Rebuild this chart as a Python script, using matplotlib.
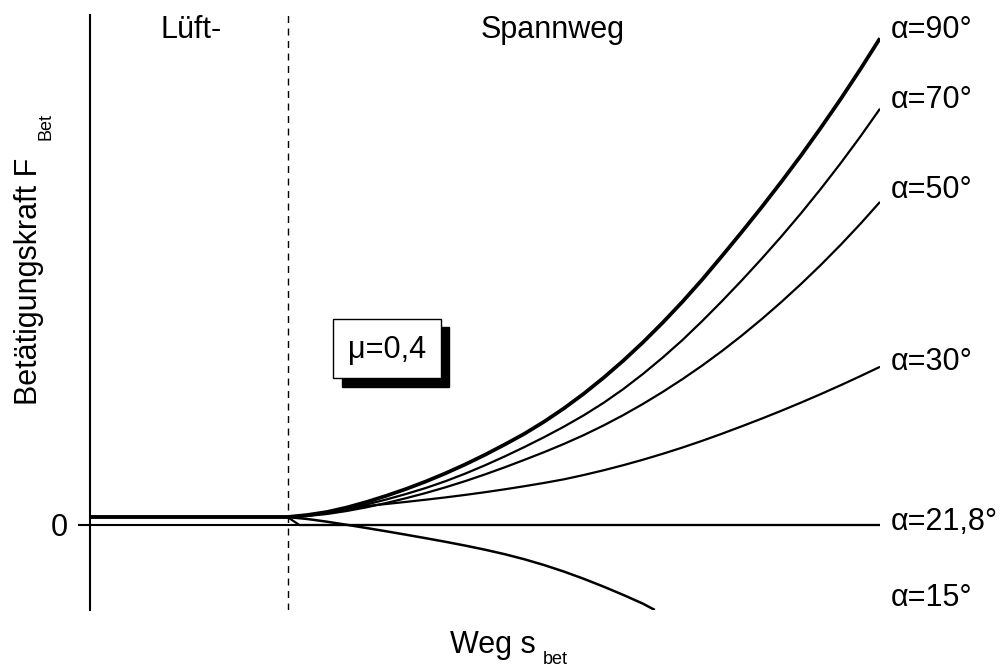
import matplotlib
matplotlib.use("Agg")
import matplotlib.pyplot as plt
from matplotlib.patches import Rectangle

plt.rcParams['font.family'] = ['Liberation Sans', 'DejaVu Sans']

# ---- data (relative units: path s from 0..10, force F relative) ----
s_common = [0, 2.5, 2.75, 3.0, 3.25, 3.5, 3.75, 4.0, 4.25, 4.5, 4.75, 5.0, 5.25, 5.5, 5.75,
            6.0, 6.25, 6.5, 6.75, 7.0, 7.25, 7.5, 7.75, 8.0, 8.25, 8.5, 8.75, 9.0, 9.25,
            9.5, 9.75, 10.0]
F_90 = [0.08, 0.08, 0.100, 0.130, 0.175, 0.230, 0.292, 0.360, 0.435, 0.517, 0.606, 0.702,
        0.805, 0.913, 1.034, 1.167, 1.313, 1.472, 1.643, 1.827, 2.024, 2.233, 2.455, 2.690,
        2.930, 3.176, 3.431, 3.695, 3.971, 4.257, 4.556, 4.867]
F_70 = [0.08, 0.08, 0.090, 0.120, 0.160, 0.205, 0.255, 0.310, 0.370, 0.438, 0.514, 0.597,
        0.686, 0.780, 0.879, 0.984, 1.097, 1.221, 1.359, 1.511, 1.675, 1.850, 2.040, 2.239,
        2.446, 2.661, 2.884, 3.117, 3.361, 3.616, 3.883, 4.163]
F_50 = [0.08, 0.08, 0.090, 0.110, 0.140, 0.177, 0.220, 0.268, 0.320, 0.377, 0.439, 0.506,
        0.577, 0.652, 0.729, 0.811, 0.899, 0.995, 1.099, 1.211, 1.331, 1.459, 1.595, 1.740,
        1.894, 2.057, 2.229, 2.410, 2.600, 2.800, 3.010, 3.231]
F_30 = [0.08, 0.08, 0.100, 0.130, 0.160, 0.190, 0.210, 0.231, 0.253, 0.276, 0.301, 0.328,
        0.357, 0.388, 0.421, 0.457, 0.500, 0.547, 0.598, 0.653, 0.712, 0.775, 0.842, 0.913,
        0.987, 1.063, 1.142, 1.224, 1.309, 1.397, 1.488, 1.582]
s_218 = [0, 2.5, 2.65, 10.0]
F_218 = [0.08, 0.08, 0.0, 0.0]
s_15 = [0, 2.5, 2.75, 3.0, 3.25, 3.5, 3.75, 4.0, 4.25, 4.5, 4.75, 5.0, 5.25, 5.5, 5.75,
        6.0, 6.25, 6.5, 6.75, 7.0, 7.15]
F_15 = [0.08, 0.08, 0.060, 0.033, 0.002, -0.030, -0.063, -0.097, -0.132, -0.168, -0.206,
        -0.247, -0.292, -0.343, -0.401, -0.466, -0.538, -0.616, -0.699, -0.787, -0.85]

curve_labels = ['α=90°', 'α=70°', 'α=50°', 'α=30°', 'α=21,8°', 'α=15°']
label_y = [4.95, 4.25, 3.35, 1.63, 0.03, -0.73]
s_luft_end = 2.5
mu_text = 'μ=0,4'

W, H = 1006, 668
fig = plt.figure(figsize=(W / 100, H / 100), dpi=100)
fig.patch.set_facecolor('white')

def fx(px):
    return px / W

def fy(py):
    return 1 - py / H

ax = fig.add_axes([fx(90), fy(610), (880 - 90) / W, (610 - 15) / H])
ax.set_xlim(0, 10)
ax.set_ylim(-0.85, 5.10)
for side in ['top', 'right', 'bottom']:
    ax.spines[side].set_visible(False)
ax.spines['left'].set_linewidth(1.5)
ax.set_xticks([])
ax.set_yticks([0])
ax.set_yticklabels(['0'], fontsize=22)
ax.tick_params(axis='y', length=9, width=1.5, pad=7, direction='out')

# zero line
ax.axhline(0, color='black', lw=1.5)
# dashed boundary between Lüft- and Spannweg
ax.axvline(s_luft_end, color='black', lw=1.0, dashes=(5, 4))

# curves
kw = dict(color='black', solid_capstyle='butt', solid_joinstyle='round')
ax.plot(s_common, F_30, lw=1.6, **kw)
ax.plot(s_common, F_50, lw=1.6, **kw)
ax.plot(s_common, F_70, lw=1.6, **kw)
ax.plot(s_218, F_218, lw=1.6, **kw)
ax.plot(s_15, F_15, lw=1.8, **kw)
ax.plot(s_common, F_90, lw=2.7, **kw)

# curve labels
for lab, yv in zip(curve_labels, label_y):
    ax.text(10.13, yv, lab, fontsize=22, ha='left', va='center', clip_on=False)

# mu box with shadow
shadow = Rectangle((fx(342), fy(387)), (449 - 342) / W, (387 - 327) / H,
                   transform=fig.transFigure, facecolor='black', edgecolor='black', zorder=5)
box = Rectangle((fx(333), fy(378)), (441 - 333) / W, (378 - 319) / H,
                transform=fig.transFigure, facecolor='white', edgecolor='black', lw=1.0, zorder=6)
fig.add_artist(shadow)
fig.add_artist(box)
fig.text(fx(387), fy(358), mu_text, fontsize=22, ha='center', va='baseline', zorder=7)

# region labels
fig.text(fx(191), fy(38), 'Lüft-', fontsize=22, ha='center', va='baseline')
fig.text(fx(553), fy(38), 'Spannweg', fontsize=22, ha='center', va='baseline')

# x-axis label
fig.text(fx(450), fy(653), 'Weg s', fontsize=22, ha='left', va='baseline')
fig.text(fx(543), fy(664), 'bet', fontsize=13, ha='left', va='baseline')

# y-axis label
fig.text(fx(37), fy(405), 'Betätigungskraft F', fontsize=22, rotation=90,
         rotation_mode='anchor', ha='left', va='baseline')
fig.text(fx(50), fy(140), 'Bet', fontsize=13, rotation=90,
         rotation_mode='anchor', ha='left', va='baseline')

fig.savefig('out.png', dpi=100, facecolor='white')
